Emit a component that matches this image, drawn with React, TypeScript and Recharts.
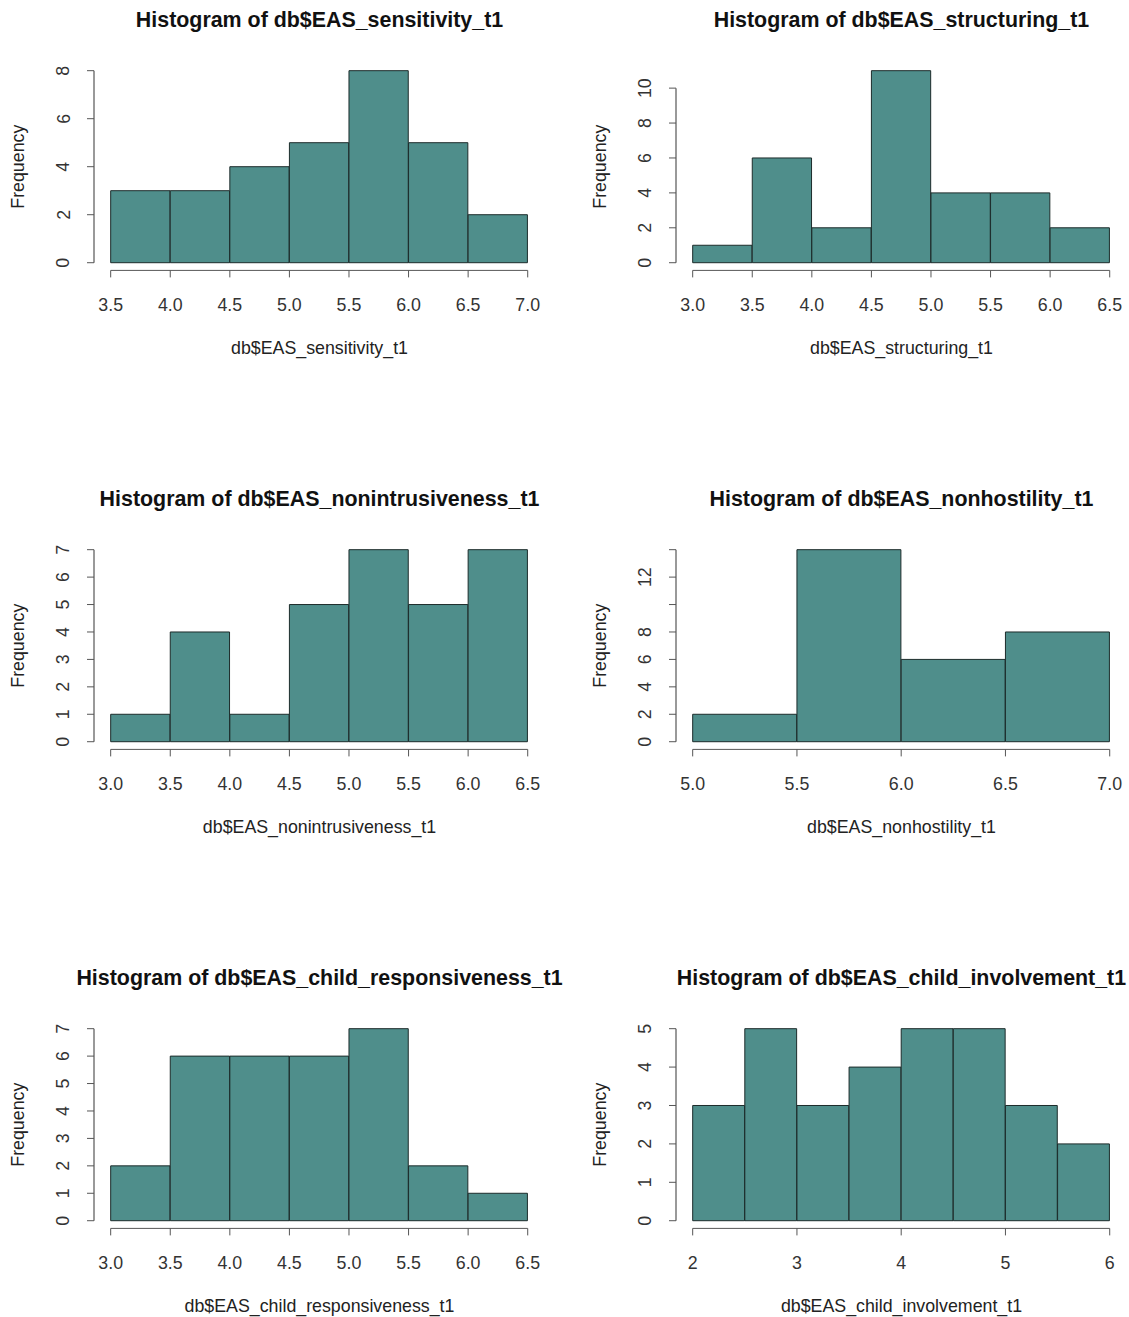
import React from "react";
import { ComposedChart, Bar, XAxis, YAxis, ReferenceLine } from "recharts";

// ---- data ----
const titles = [
  "Histogram of db$EAS_sensitivity_t1",
  "Histogram of db$EAS_structuring_t1",
  "Histogram of db$EAS_nonintrusiveness_t1",
  "Histogram of db$EAS_nonhostility_t1",
  "Histogram of db$EAS_child_responsiveness_t1",
  "Histogram of db$EAS_child_involvement_t1",
];
const xLabels = [
  "db$EAS_sensitivity_t1",
  "db$EAS_structuring_t1",
  "db$EAS_nonintrusiveness_t1",
  "db$EAS_nonhostility_t1",
  "db$EAS_child_responsiveness_t1",
  "db$EAS_child_involvement_t1",
];
const breaks1 = [3.5, 4.0, 4.5, 5.0, 5.5, 6.0, 6.5, 7.0];
const counts1 = [3, 3, 4, 5, 8, 5, 2];
const breaks2 = [3.0, 3.5, 4.0, 4.5, 5.0, 5.5, 6.0, 6.5];
const counts2 = [1, 6, 2, 11, 4, 4, 2];
const breaks3 = [3.0, 3.5, 4.0, 4.5, 5.0, 5.5, 6.0, 6.5];
const counts3 = [1, 4, 1, 5, 7, 5, 7];
const breaks4 = [5.0, 5.5, 6.0, 6.5, 7.0];
const counts4 = [2, 14, 6, 8];
const breaks5 = [3.0, 3.5, 4.0, 4.5, 5.0, 5.5, 6.0, 6.5];
const counts5 = [2, 6, 6, 6, 7, 2, 1];
const breaks6 = [2.0, 2.5, 3.0, 3.5, 4.0, 4.5, 5.0, 5.5, 6.0];
const counts6 = [3, 5, 3, 4, 5, 5, 3, 2];

const xTicks1 = [3.5, 4.0, 4.5, 5.0, 5.5, 6.0, 6.5, 7.0];
const xTicks2 = [3.0, 3.5, 4.0, 4.5, 5.0, 5.5, 6.0, 6.5];
const xTicks3 = [3.0, 3.5, 4.0, 4.5, 5.0, 5.5, 6.0, 6.5];
const xTicks4 = [5.0, 5.5, 6.0, 6.5, 7.0];
const xTicks5 = [3.0, 3.5, 4.0, 4.5, 5.0, 5.5, 6.0, 6.5];
const xTicks6 = [2, 3, 4, 5, 6];
const xDigits = [1, 1, 1, 1, 1, 0];

const yTicks1 = [0, 2, 4, 6, 8];
const yTicks2 = [0, 2, 4, 6, 8, 10];
const yTicks3 = [0, 1, 2, 3, 4, 5, 6, 7];
const yTicks4 = [0, 2, 4, 6, 8, 10, 12, 14];
const yTicks5 = [0, 1, 2, 3, 4, 5, 6, 7];
const yTicks6 = [0, 1, 2, 3, 4, 5];
// labels R dropped because of overlap
const yHidden4 = [10, 14];

const panels = [
  { breaks: breaks1, counts: counts1, xTicks: xTicks1, yTicks: yTicks1, hidden: [] as number[] },
  { breaks: breaks2, counts: counts2, xTicks: xTicks2, yTicks: yTicks2, hidden: [] as number[] },
  { breaks: breaks3, counts: counts3, xTicks: xTicks3, yTicks: yTicks3, hidden: [] as number[] },
  { breaks: breaks4, counts: counts4, xTicks: xTicks4, yTicks: yTicks4, hidden: yHidden4 },
  { breaks: breaks5, counts: counts5, xTicks: xTicks5, yTicks: yTicks5, hidden: [] as number[] },
  { breaks: breaks6, counts: counts6, xTicks: xTicks6, yTicks: yTicks6, hidden: [] as number[] },
];

// ---- layout ----
const FONT = "'Liberation Sans', Arial, Helvetica, sans-serif";
const FILL = "#4f8e8b";
const AXIS = "#555555";
const LAB = 17.8;
const PLOT_W = 450.4;
const PLOT_H = 207.4;
const ML = 100;
const MR = 20;
const MT = 64;
const MB = 95;
const YW = 40;
const XH = 60;
const TICK = 7;
const colLeft = [94.3, 676.3];
const rowTop = [63.3, 542.3, 1021.3];

const XTick = (digits: number) => (props: any) => {
  const { x, y, payload } = props;
  return (
    <text x={x} y={y + 31.5} textAnchor="middle" fontSize={LAB} fontFamily={FONT} fill="#333">
      {Number(payload.value).toFixed(digits)}
    </text>
  );
};

const YTick = (hidden: number[]) => (props: any) => {
  const { x, y, payload } = props;
  const v = Number(payload.value);
  const lx = x + TICK + 2 - 30.5;
  if (hidden.includes(v)) return <g />;
  return (
    <text
      x={lx}
      y={y}
      textAnchor="middle"
      fontSize={LAB}
      fontFamily={FONT}
      fill="#333"
      transform={`rotate(-90, ${lx}, ${y})`}
      dominantBaseline="central"
    >
      {v}
    </text>
  );
};

function Panel({ idx }: { idx: number }) {
  const p = panels[idx];
  const col = idx % 2;
  const row = Math.floor(idx / 2);
  const b0 = p.breaks[0];
  const b1 = p.breaks[p.breaks.length - 1];
  const xr = b1 - b0;
  const xDom: [number, number] = [b0 - 0.04 * xr, b1 + 0.04 * xr];
  const ymax = Math.max(...p.counts);
  const yDom: [number, number] = [-0.04 * ymax, 1.04 * ymax];
  const data = p.counts.map((c, i) => ({ mid: (p.breaks[i] + p.breaks[i + 1]) / 2, count: c }));
  const binPx = (PLOT_W * (p.breaks[1] - p.breaks[0])) / (xDom[1] - xDom[0]);
  const left = colLeft[col] - ML;
  const top = rowTop[row] - MT;
  const W = ML + PLOT_W + MR;
  const H = MT + PLOT_H + MB;
  const yTop = p.yTicks[p.yTicks.length - 1];
  const xEnd = p.xTicks[p.xTicks.length - 1];
  return (
    <div style={{ position: "absolute", left, top, width: W, height: H }}>
      <div
        style={{
          position: "absolute",
          left: ML - 50,
          top: MT - 55.6,
          width: PLOT_W + 100,
          textAlign: "center",
          fontFamily: FONT,
          fontWeight: "bold",
          fontSize: 21.4,
          lineHeight: "24.6px",
          color: "#111",
          whiteSpace: "nowrap",
        }}
      >
        {titles[idx]}
      </div>
      <div
        style={{
          position: "absolute",
          left: ML - 50,
          top: MT + PLOT_H + 67,
          width: PLOT_W + 100,
          textAlign: "center",
          fontFamily: FONT,
          fontSize: LAB,
          lineHeight: "20.4px",
          color: "#222",
          whiteSpace: "nowrap",
        }}
      >
        {xLabels[idx]}
      </div>
      <svg
        style={{ position: "absolute", left: 0, top: 0, overflow: "visible" }}
        width={40}
        height={H}
      >
        <text
          x={ML - 75.8}
          y={MT + PLOT_H / 2}
          transform={`rotate(-90, ${ML - 75.8}, ${MT + PLOT_H / 2})`}
          textAnchor="middle"
          dominantBaseline="central"
          fontSize={LAB}
          fontFamily={FONT}
          fill="#222"
        >
          Frequency
        </text>
      </svg>
      <div style={{ position: "absolute", left: 0, top: 0 }}>
        <ComposedChart
          width={W}
          height={H}
          data={data}
          barCategoryGap={0}
          barGap={0}
          margin={{ top: MT, right: MR, bottom: MB - XH, left: ML - YW }}
        >
          <XAxis
            dataKey="mid"
            type="number"
            domain={xDom}
            ticks={p.xTicks}
            axisLine={false}
            tickLine={{ stroke: AXIS, strokeWidth: 1 }}
            tickSize={TICK}
            height={XH}
            interval={0}
            tick={XTick(xDigits[idx])}
          />
          <YAxis
            type="number"
            domain={yDom}
            ticks={p.yTicks}
            axisLine={false}
            tickLine={{ stroke: AXIS, strokeWidth: 1 }}
            tickSize={TICK}
            width={YW}
            interval={0}
            tick={YTick(p.hidden)}
          />
          <Bar
            dataKey="count"
            fill={FILL}
            stroke="#1c2b2a"
            strokeWidth={1}
            barSize={binPx - 0.3}
            maxBarSize={1000}
            isAnimationActive={false}
          />
          <ReferenceLine
            segment={[
              { x: b0, y: yDom[0] },
              { x: xEnd, y: yDom[0] },
            ]}
            stroke={AXIS}
            strokeWidth={1}
            ifOverflow="visible"
          />
          <ReferenceLine
            segment={[
              { x: xDom[0], y: 0 },
              { x: xDom[0], y: yTop },
            ]}
            stroke={AXIS}
            strokeWidth={1.2}
            ifOverflow="visible"
          />
        </ComposedChart>
      </div>
    </div>
  );
}

export default function App() {
  return (
    <div style={{ position: "absolute", left: 0, top: 0, width: 1129, height: 1317, background: "#fff" }}>
      {[0, 1, 2, 3, 4, 5].map((i) => (
        <Panel key={i} idx={i} />
      ))}
    </div>
  );
}
